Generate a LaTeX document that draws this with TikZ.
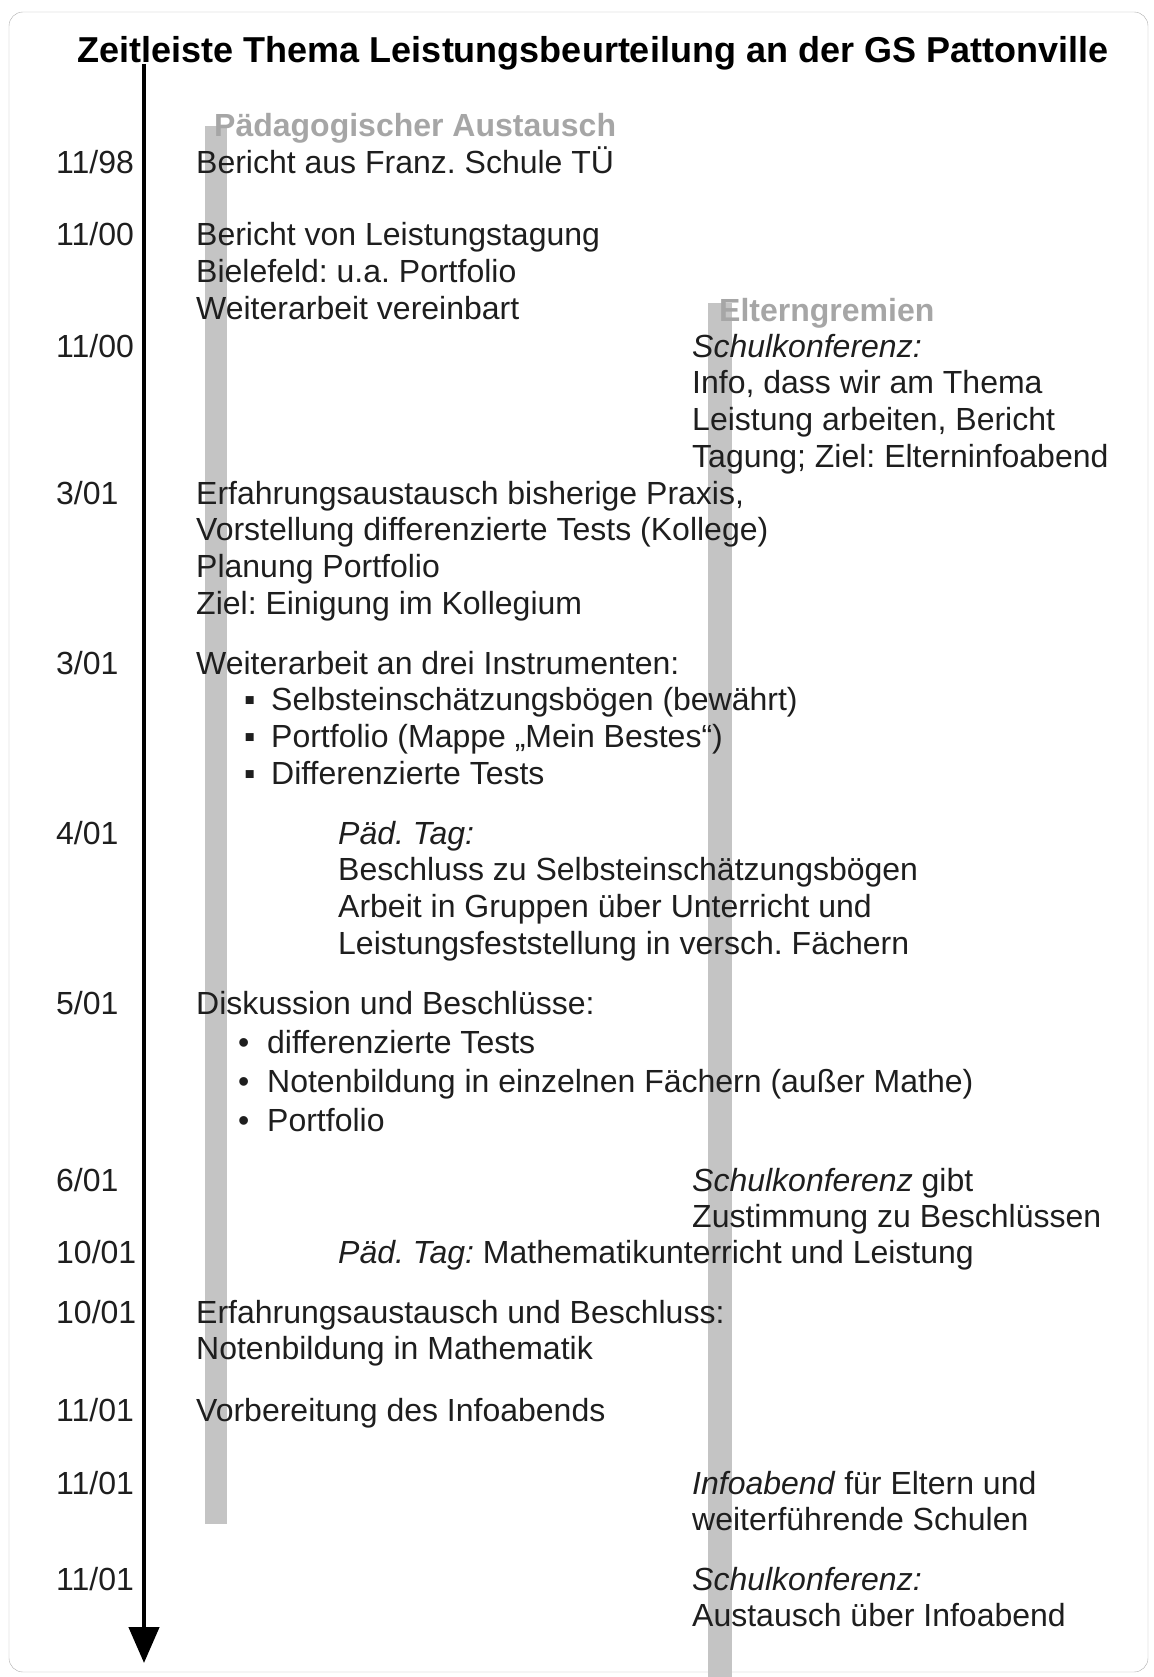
\documentclass[tikz,border=0pt]{standalone}
\usepackage{fontspec}
\setmainfont{Liberation Sans}
\usetikzlibrary{arrows.meta}
\frenchspacing

\definecolor{trackgray}{HTML}{C4C4C4}
\definecolor{headgray}{HTML}{A6A6A6}
\definecolor{ink}{HTML}{1E1E1E}
\newcommand{\sqbullet}{\hspace*{48pt}\makebox[27pt][l]{▪}}
\newcommand{\rdbullet}{\hspace*{42pt}\makebox[29pt][l]{•}}
\newcommand{\lineblock}[1]{\begin{tabular}[t]{@{}l@{}}#1\end{tabular}}

\begin{document}
\begin{tikzpicture}[x=1pt,y=-1pt,font=\fontsize{32}{36.9}\selectfont,text=ink]
    \tikzstyle{when}=[anchor=base west,inner sep=0pt]
    \tikzstyle{entry}=[anchor=base west,inner sep=0pt]
    \tikzstyle{heading}=[anchor=base west,inner sep=0pt,font=\fontsize{32}{36.9}\selectfont\bfseries,text=headgray]
    \tikzstyle{track}=[fill=trackgray]

    \useasboundingbox (0,0) rectangle (1153,1677);
    \draw[black!32,rounded corners=14pt] (9,12) rectangle (1148,1672);

    %%%%%%%%%%%%%%%%%%%%%%%%%%%%%%%%%%%%%%%%%%%%
    %%% THE TWO TRACKS AND THE TIME AXIS
    %%%%%%%%%%%%%%%%%%%%%%%%%%%%%%%%%%%%%%%%%%%%
    \fill[track] (205,126) rectangle (227,1524);
    \fill[track] (708,303) rectangle (732,1677);

    \node[font=\fontsize{36}{40}\selectfont\bfseries,text=black] (T) at (593,53)
        {Zeitleiste Thema Leistungsbeurteilung an der GS Pattonville};

    \coordinate (axis-top) at (144,64);
    \coordinate (axis-end) at (144,1663);
    \draw[line width=4.5pt,-{Triangle[length=36pt,width=30pt]}] (axis-top) -- (axis-end);

    \node[heading] (H-left) at (214,137) {Pädagogischer Austausch};
    \node[heading] (H-right) at (719,321) {Elterngremien};

    %%%%%%%%%%%%%%%%%%%%%%%%%%%%%%%%%%%%%%%%%%%%
    %%% THE DATES
    %%%%%%%%%%%%%%%%%%%%%%%%%%%%%%%%%%%%%%%%%%%%
    \foreach \name/\y/\d in {1/174/{11/98},2/246/{11/00},3/357/{11/00},4/504/{3/01},
                              5/674/{3/01},6/844/{4/01},7/1014/{5/01},8/1191/{6/01},
                              9/1263/{10/01},10/1323/{10/01},11/1421/{11/01},
                              12/1494/{11/01},13/1590/{11/01}}
        \node[when] (D-\name) at (56,\y) {\d};

    %%%%%%%%%%%%%%%%%%%%%%%%%%%%%%%%%%%%%%%%%%%%
    %%% THE ENTRIES
    %%%%%%%%%%%%%%%%%%%%%%%%%%%%%%%%%%%%%%%%%%%%
    \node[entry] (L-1) at (196,174) {Bericht aus Franz. Schule TÜ};
    \node[entry] (L-2) at (196,246) {\lineblock{Bericht von Leistungstagung\\Bielefeld: u.a. Portfolio\\Weiterarbeit vereinbart}};
    \node[entry] (R-3) at (692,357) {\lineblock{\textit{Schulkonferenz:}\\Info, dass wir am Thema\\Leistung arbeiten, Bericht\\Tagung; Ziel: Elterninfoabend}};
    \node[entry] (L-4) at (196,504) {\lineblock{Erfahrungsaustausch bisherige Praxis,\\Vorstellung differenzierte Tests (Kollege)\\Planung Portfolio\\Ziel: Einigung im Kollegium}};
    \node[entry] (L-5) at (196,674) {\lineblock{Weiterarbeit an drei Instrumenten:\\\sqbullet Selbsteinschätzungsbögen (bewährt)\\\sqbullet Portfolio (Mappe „Mein Bestes“)\\\sqbullet Differenzierte Tests}};
    \node[entry] (M-6) at (338,844) {\lineblock{\textit{Päd. Tag:}\\Beschluss zu Selbsteinschätzungsbögen\\Arbeit in Gruppen über Unterricht und\\Leistungsfeststellung in versch. Fächern}};
    \node[entry] (L-7) at (196,1014) {\lineblock{Diskussion und Beschlüsse:\\[2.1pt]\rdbullet differenzierte Tests\\[2.1pt]\rdbullet Notenbildung in einzelnen Fächern (außer Mathe)\\[2.1pt]\rdbullet Portfolio}};
    \node[entry] (R-8) at (692,1191) {\lineblock{\textit{Schulkonferenz} gibt\\Zustimmung zu Beschlüssen}};
    \node[entry] (M-9) at (338,1263) {\textit{Päd. Tag:} Mathematikunterricht und Leistung};
    \node[entry] (L-10) at (196,1323) {\lineblock{Erfahrungsaustausch und Beschluss:\\Notenbildung in Mathematik}};
    \node[entry] (L-11) at (196,1421) {Vorbereitung des Infoabends};
    \node[entry] (R-12) at (692,1494) {\lineblock{\textit{Infoabend} für Eltern und\\weiterführende Schulen}};
    \node[entry] (R-13) at (692,1590) {\lineblock{\textit{Schulkonferenz:}\\Austausch über Infoabend}};
\end{tikzpicture}
\end{document}
